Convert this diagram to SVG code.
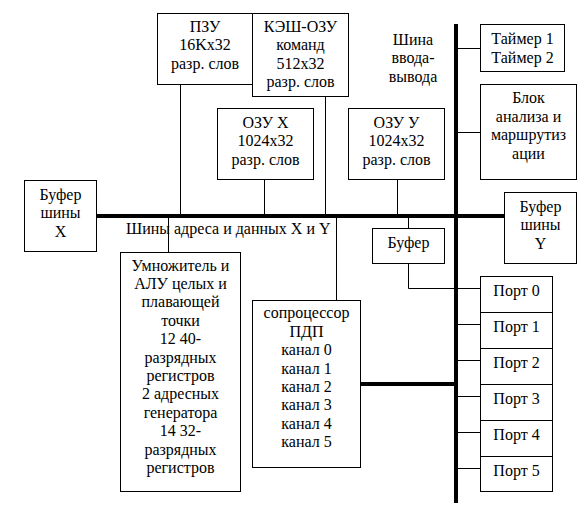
<svg xmlns="http://www.w3.org/2000/svg" width="588" height="516" viewBox="0 0 588 516">
<style>
.b{fill:#fff;stroke:#000;stroke-width:1}
.t{font-family:"Liberation Serif","Times New Roman",serif;font-size:16px;fill:#000;text-anchor:middle}
.l{stroke:#000;stroke-width:1;fill:none}
.bus{stroke:#000;stroke-width:4;fill:none}
</style>
<rect width="588" height="516" fill="#fff"/>
<g id="connectors">
<line class="l" x1="180.5" y1="84" x2="180.5" y2="216"/>
<line class="l" x1="325.5" y1="97" x2="325.5" y2="216"/>
<line class="l" x1="264.5" y1="180" x2="264.5" y2="216"/>
<line class="l" x1="397.5" y1="180" x2="397.5" y2="216"/>
<line class="l" x1="168.5" y1="216" x2="168.5" y2="252"/>
<line class="l" x1="336.5" y1="216" x2="336.5" y2="300"/>
<line class="l" x1="408.5" y1="216" x2="408.5" y2="228"/>
<polyline class="l" points="408.5,264 408.5,288.5 480,288.5"/>
<line class="l" x1="456" y1="48.5" x2="480" y2="48.5"/>
<line class="l" x1="456" y1="132.5" x2="480" y2="132.5"/>
<line class="l" x1="456" y1="324.5" x2="480" y2="324.5"/>
<line class="l" x1="456" y1="360.5" x2="480" y2="360.5"/>
<line class="l" x1="456" y1="396.5" x2="480" y2="396.5"/>
<line class="l" x1="456" y1="432.5" x2="480" y2="432.5"/>
<line class="l" x1="456" y1="468.5" x2="480" y2="468.5"/>
<line class="bus" x1="97" y1="216" x2="504" y2="216"/>
<line class="bus" x1="456" y1="24" x2="456" y2="503"/>
<line class="bus" x1="360" y1="384" x2="456" y2="384"/>
</g>
<g id="bus-label">
<text class="t" x="126" y="234" style="text-anchor:start">Шины адреса и данных X и Y</text>
</g>
<g id="io-label">
<text class="t" x="413" y="45">Шина</text>
<text class="t" x="413" y="63.4">ввода-</text>
<text class="t" x="413" y="81.8">вывода</text>
</g>
<g id="pzu">
<rect class="b" x="157.5" y="13.5" width="95" height="71"/>
<text class="t" x="205" y="32">ПЗУ</text>
<text class="t" x="205" y="50.4">16Kx32</text>
<text class="t" x="205" y="68.8">разр. слов</text>
</g>
<g id="kesh">
<rect class="b" x="252.5" y="13.5" width="96" height="83"/>
<text class="t" x="300.5" y="32">КЭШ-ОЗУ</text>
<text class="t" x="300.5" y="50.4">команд</text>
<text class="t" x="300.5" y="68.8">512x32</text>
<text class="t" x="300.5" y="87.2">разр. слов</text>
</g>
<g id="ozux">
<rect class="b" x="217.5" y="108.5" width="96" height="71"/>
<text class="t" x="265.5" y="128">ОЗУ X</text>
<text class="t" x="265.5" y="146.4">1024x32</text>
<text class="t" x="265.5" y="164.8">разр. слов</text>
</g>
<g id="ozuy">
<rect class="b" x="348.5" y="108.5" width="96" height="71"/>
<text class="t" x="396.5" y="128">ОЗУ У</text>
<text class="t" x="396.5" y="146.4">1024x32</text>
<text class="t" x="396.5" y="164.8">разр. слов</text>
</g>
<g id="bufx">
<rect class="b" x="24.5" y="180.5" width="72" height="71"/>
<text class="t" x="60.5" y="200">Буфер</text>
<text class="t" x="60.5" y="218.4">шины</text>
<text class="t" x="60.5" y="236.8">X</text>
</g>
<g id="timer">
<rect class="b" x="480.5" y="24.5" width="84" height="47"/>
<text class="t" x="522.5" y="44.3">Таймер 1</text>
<text class="t" x="522.5" y="62.7">Таймер 2</text>
</g>
<g id="blok">
<rect class="b" x="480.5" y="84.5" width="96" height="95"/>
<text class="t" x="528.5" y="103.3">Блок</text>
<text class="t" x="528.5" y="121.7">анализа и</text>
<text class="t" x="528.5" y="140.1">маршрутиз</text>
<text class="t" x="528.5" y="158.5">ации</text>
</g>
<g id="bufy">
<rect class="b" x="504.5" y="192.5" width="72" height="71"/>
<text class="t" x="540.5" y="212">Буфер</text>
<text class="t" x="540.5" y="230.4">шины</text>
<text class="t" x="540.5" y="248.8">Y</text>
</g>
<g id="buf">
<rect class="b" x="372.5" y="228.5" width="72" height="35"/>
<text class="t" x="408.5" y="248.3">Буфер</text>
</g>
<g id="alu">
<rect class="b" x="120.5" y="252.5" width="120" height="239"/>
<text class="t" x="180.5" y="270.5">Умножитель и</text>
<text class="t" x="180.5" y="288.9">АЛУ целых и</text>
<text class="t" x="180.5" y="307.3">плавающей</text>
<text class="t" x="180.5" y="325.7">точки</text>
<text class="t" x="180.5" y="344.1">12 40-</text>
<text class="t" x="180.5" y="362.5">разрядных</text>
<text class="t" x="180.5" y="380.9">регистров</text>
<text class="t" x="180.5" y="399.3">2 адресных</text>
<text class="t" x="180.5" y="417.7">генератора</text>
<text class="t" x="180.5" y="436.1">14 32-</text>
<text class="t" x="180.5" y="454.5">разрядных</text>
<text class="t" x="180.5" y="472.9">регистров</text>
</g>
<g id="pdp">
<rect class="b" x="252.5" y="300.5" width="108" height="167"/>
<text class="t" x="306.5" y="318.3">сопроцессор</text>
<text class="t" x="306.5" y="336.7">ПДП</text>
<text class="t" x="306.5" y="355.1">канал 0</text>
<text class="t" x="306.5" y="373.5">канал 1</text>
<text class="t" x="306.5" y="391.9">канал 2</text>
<text class="t" x="306.5" y="410.3">канал 3</text>
<text class="t" x="306.5" y="428.7">канал 4</text>
<text class="t" x="306.5" y="447.1">канал 5</text>
</g>
<g id="port0"><rect class="b" x="480.5" y="276.5" width="72" height="36"/><text class="t" x="516.5" y="296">Порт 0</text></g>
<g id="port1"><rect class="b" x="480.5" y="312.5" width="72" height="36"/><text class="t" x="516.5" y="332">Порт 1</text></g>
<g id="port2"><rect class="b" x="480.5" y="348.5" width="72" height="36"/><text class="t" x="516.5" y="368">Порт 2</text></g>
<g id="port3"><rect class="b" x="480.5" y="384.5" width="72" height="36"/><text class="t" x="516.5" y="404">Порт 3</text></g>
<g id="port4"><rect class="b" x="480.5" y="420.5" width="72" height="36"/><text class="t" x="516.5" y="440">Порт 4</text></g>
<g id="port5"><rect class="b" x="480.5" y="456.5" width="72" height="35"/><text class="t" x="516.5" y="476">Порт 5</text></g>
</svg>
